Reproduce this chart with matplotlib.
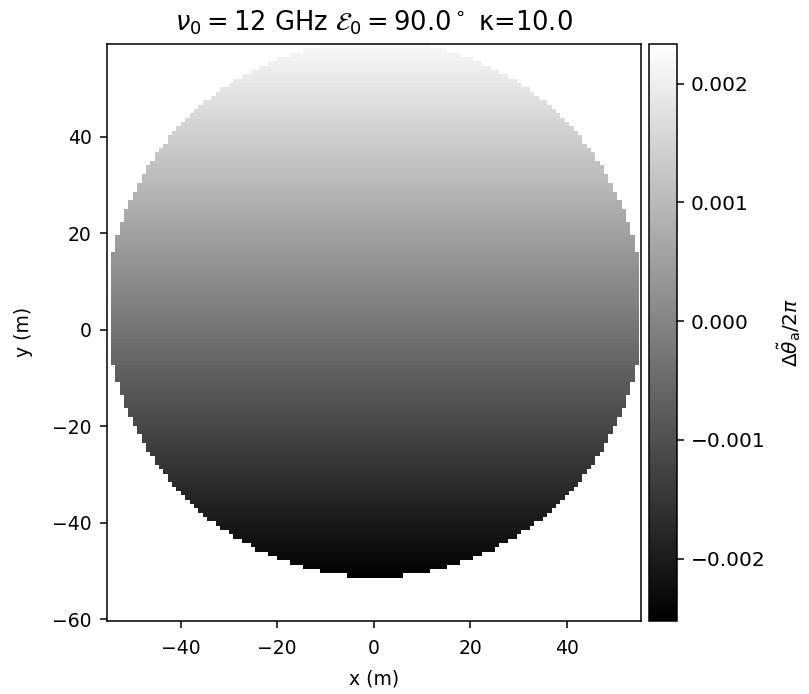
import numpy as np
import matplotlib
matplotlib.use('Agg')
import matplotlib.pyplot as plt

# dish outline (m) and phase gradient
dish_center = (0.15, 4.37)
dish_semi_x = 55.4
dish_semi_y = 55.53
grid_x = (-54.5, 54.8)     # extent of the sampled grid
grid_y = (-60.3, 59.2)
n_cols, n_rows = 121, 133
x_range = (-55.3, 55.5)    # axes limits
y_range = (-60.3, 59.2)
phase_top = 0.0022         # value in the top row of the dish
phase_bottom = -0.0025     # value in the bottom row of the dish
cb_range = (-0.002526, 0.002333)

cb_ticks = [-0.002, -0.001, 0.000, 0.001, 0.002]
x_ticks = [-40, -20, 0, 20, 40]
y_ticks = [-60, -40, -20, 0, 20, 40]

plt.rcParams.update({
    'xtick.major.size': 4.8, 'ytick.major.size': 4.8,
    'xtick.major.pad': 8.5, 'ytick.major.pad': 6,
    'xtick.major.width': 1.1, 'ytick.major.width': 1.1,
    'axes.linewidth': 1.1,
})

xe = np.linspace(grid_x[0], grid_x[1], n_cols + 1)
ye = np.linspace(grid_y[0], grid_y[1], n_rows + 1)
X, Y = np.meshgrid(0.5 * (xe[1:] + xe[:-1]), 0.5 * (ye[1:] + ye[:-1]))

inside = ((X - dish_center[0]) / dish_semi_x)**2 + ((Y - dish_center[1]) / dish_semi_y)**2 <= 1
rows = Y[inside]
y_lo, y_hi = rows.min(), rows.max()
phase = phase_bottom + (phase_top - phase_bottom) * (Y - y_lo) / (y_hi - y_lo)
phase = np.ma.masked_where(~inside, phase)

fig = plt.figure(figsize=(8.09, 6.94), dpi=100)
ax = fig.add_axes([106.7/809, 1 - 620.7/694, (641.3-106.7)/809, (620.7-44)/694])
cax = fig.add_axes([649/809, 1 - 621/694, 28/809, 577/694])

im = ax.imshow(phase, origin='lower', cmap='gray', interpolation='nearest',
               vmin=cb_range[0], vmax=cb_range[1],
               extent=[grid_x[0], grid_x[1], grid_y[0], grid_y[1]], aspect='auto')
ax.set_xlim(x_range)
ax.set_ylim(y_range)
ax.set_xticks(x_ticks)
ax.set_yticks(y_ticks)
ax.tick_params(labelsize=13.5)
ax.set_xlabel('x (m)', fontsize=13.5, labelpad=8)
ax.set_ylabel('y (m)', fontsize=13.5)
ax.yaxis.set_label_coords(-0.138, 0.5)
ax.set_title(r'$\nu_0 = 12$ GHz $\mathcal{E}_0 = 90.0^\circ$ κ=10.0', fontsize=18.5, pad=10)

cb = fig.colorbar(im, cax=cax, ticks=cb_ticks)
cb.ax.tick_params(labelsize=14.5, pad=5)
cb.outline.set_linewidth(1.1)
cb.set_label(r'$\Delta\tilde{\theta}_{\rm a}/2\pi$', fontsize=14.5, labelpad=7)

fig.savefig('out.png', dpi=100)
